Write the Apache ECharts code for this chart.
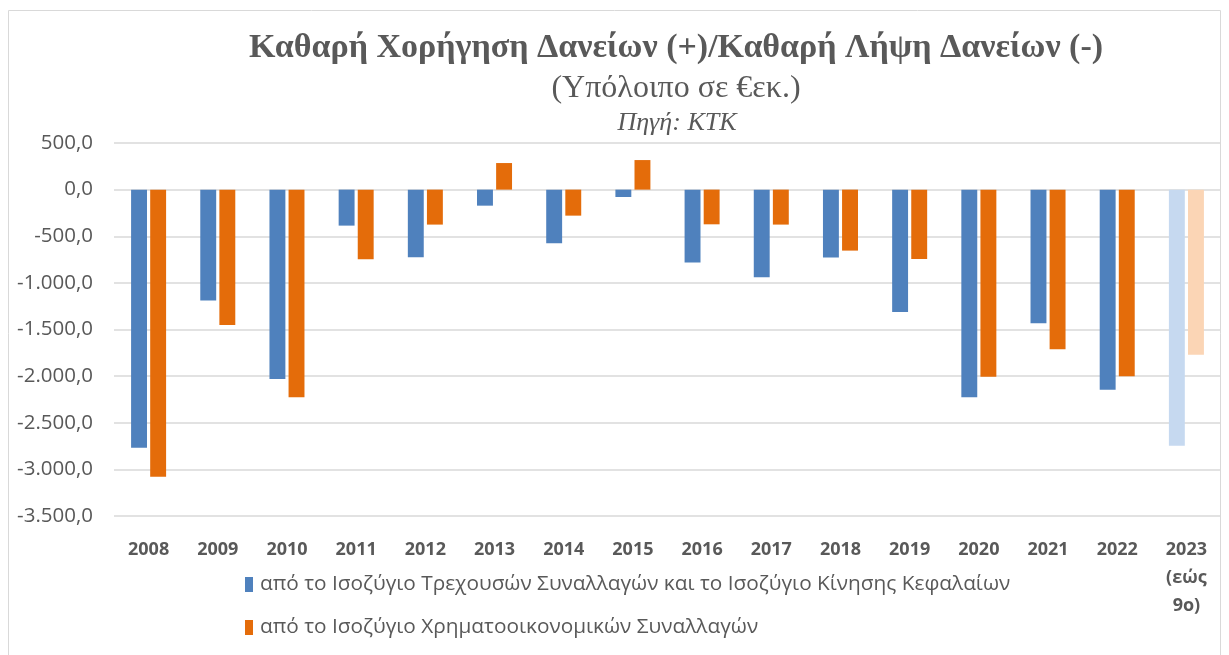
<!DOCTYPE html>
<html><head><meta charset="utf-8">
<script src="https://cdn.jsdelivr.net/npm/echarts@6/dist/echarts.min.js"></script>
<style>html,body{margin:0;padding:0;background:#fff}#c{width:1229px;height:655px}</style>
</head><body><div id="c"></div>
<script>
const categories = ['2008','2009','2010','2011','2012','2013','2014','2015','2016','2017','2018','2019','2020','2021','2022','2023\n(εώς\n9ο)'];
const currentCapital = [-2769,-1190,-2030,-386,-725,-172,-575,-79,-782,-940,-729,-1311,-2226,-1433,-2147,-2747];
const financial = [-3080,-1451,-2226,-747,-375,285,-279,317,-372,-375,-654,-743,-2008,-1711,-2001,-1772];
const seriesNames = ['από το Ισοζύγιο Τρεχουσών Συναλλαγών και το Ισοζύγιο Κίνησης Κεφαλαίων','από το Ισοζύγιο Χρηματοοικονομικών Συναλλαγών'];
const titleText = 'Καθαρή Χορήγηση Δανείων (+)/Καθαρή Λήψη Δανείων (-)';
const subText = '(Υπόλοιπο σε €εκ.)';
const sourceText = 'Πηγή: ΚΤΚ';

const colors = ['#4F81BD','#E46C0A'];
const lightColors = ['#C6D9F0','#FBD5B5'];
const last = categories.length - 1;
function fmt(v){
  const neg = v < 0; v = Math.abs(v);
  const s = v.toFixed(1).split('.');
  const i = s[0].replace(/\B(?=(\d{3})+(?!\d))/g,'.');
  return (neg?'-':'') + i + ',' + s[1];
}
const chart = echarts.init(document.getElementById('c'), null, {renderer:'canvas'});
chart.setOption({
  animation:false,
  color:colors,
  textStyle:{fontFamily:'Open Sans'},
  title:[
    {text:titleText,left:671,top:26,textAlign:'center',textStyle:{fontFamily:'Liberation Serif',fontWeight:'bold',fontSize:34,color:'#595959'}},
    {text:subText,left:671,top:68,textAlign:'center',textStyle:{fontFamily:'Liberation Serif',fontWeight:'normal',fontSize:32,color:'#595959'}},
    {text:sourceText,left:672,top:105,textAlign:'center',textStyle:{fontFamily:'Liberation Serif',fontStyle:'italic',fontWeight:'normal',fontSize:26,color:'#595959'}}
  ],
  graphic:[{type:'rect',shape:{x:8.5,y:10.5,width:1212,height:660},style:{fill:null,stroke:'#D9D9D9',lineWidth:1},silent:true}],
  grid:{left:114,right:8,top:143,bottom:139,containLabel:false},
  legend:{orient:'vertical',left:240,top:569,itemGap:22,itemWidth:8,itemHeight:15,icon:'rect',
    textStyle:{fontFamily:'Open Sans',fontSize:20.8,color:'#595959',padding:[0,0,0,2]},
    data:seriesNames.map((n,i)=>({name:n,itemStyle:{color:colors[i]}}))},
  xAxis:{type:'category',data:categories,axisLine:{show:false},axisTick:{show:false},
    axisLabel:{interval:0,margin:20,fontFamily:'Open Sans',fontWeight:'bold',fontSize:18,color:'#595959',lineHeight:28,verticalAlign:'top'}},
  yAxis:{type:'value',min:-3500,max:500,interval:500,axisLine:{show:false},axisTick:{show:false},
    splitLine:{lineStyle:{color:'#D9D9D9',width:1.5}},
    axisLabel:{margin:21,fontFamily:'Open Sans',fontSize:20.5,color:'#595959',formatter:fmt}},
  series:[
    {name:seriesNames[0],type:'bar',data:currentCapital,barWidth:'23%',barGap:'20%',
      itemStyle:{color:p=>p.dataIndex===last?lightColors[0]:colors[0]}},
    {name:seriesNames[1],type:'bar',data:financial,barWidth:'23%',barGap:'20%',
      itemStyle:{color:p=>p.dataIndex===last?lightColors[1]:colors[1]}}
  ]
});
</script></body></html>
